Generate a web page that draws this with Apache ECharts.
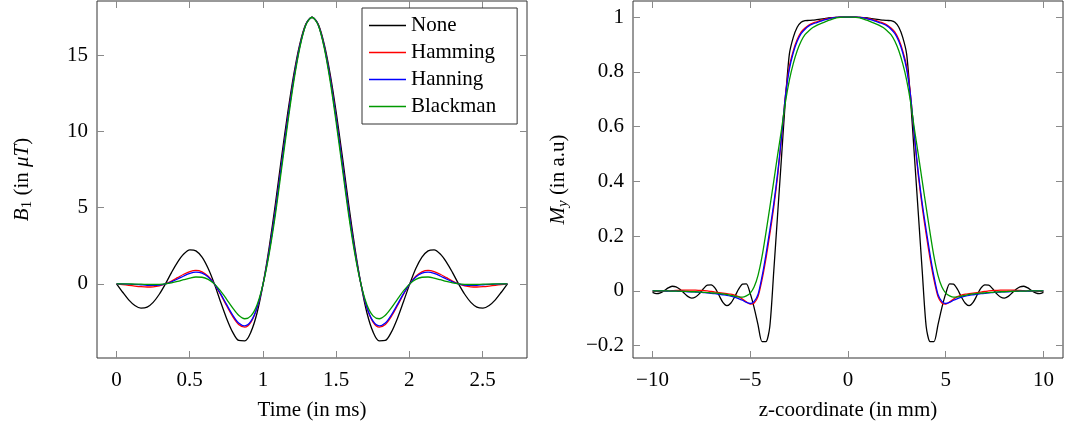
<!DOCTYPE html>
<html>
<head>
<meta charset="utf-8">
<title>RF pulse windows</title>
<script src="https://cdn.jsdelivr.net/npm/echarts@6/dist/echarts.min.js"></script>
<style>
  html, body { margin: 0; padding: 0; background: #fff; }
  #main { width: 1067px; height: 430px; }
</style>
</head>
<body>
<div id="main"></div>
<script>
// ---- left panel: B1 pulse vs time ----
var timeMs = [0, 0.042, 0.083, 0.125, 0.167, 0.209, 0.250, 0.292, 0.334, 0.375, 0.417, 0.459, 0.501, 0.542, 0.584, 0.626,
  0.668, 0.709, 0.751, 0.793, 0.834, 0.876, 0.918, 0.960, 1.001, 1.043, 1.085, 1.126, 1.168, 1.210, 1.252, 1.293,
  1.335, 1.377, 1.418, 1.460, 1.502, 1.544, 1.585, 1.627, 1.669, 1.710, 1.752, 1.794, 1.836, 1.877, 1.919, 1.961,
  2.003, 2.044, 2.086, 2.128, 2.169, 2.211, 2.253, 2.295, 2.336, 2.378, 2.420, 2.461, 2.503, 2.545, 2.587, 2.628, 2.670];

var b1None = [0, -0.550, -1.050, -1.420, -1.592, -1.525, -1.212, -0.682, 0, 0.741, 1.432, 1.961, 2.228, 2.167, 1.751, 1.003,
  0, -1.137, -2.251, -3.167, -3.714, -3.743, -3.151, -1.895, 0, 2.436, 5.252, 8.234, 11.141, 13.724, 15.756, 17.054,
  17.5, 17.054, 15.756, 13.724, 11.141, 8.234, 5.252, 2.436, 0, -1.895, -3.151, -3.743, -3.714, -3.167, -2.251, -1.137,
  0, 1.003, 1.751, 2.167, 2.228, 1.961, 1.432, 0.741, 0, -0.682, -1.212, -1.525, -1.592, -1.420, -1.050, -0.550, 0];
var b1Hamming = [0, -0.045, -0.093, -0.142, -0.183, -0.205, -0.191, -0.126, 0, 0.184, 0.407, 0.634, 0.811, 0.881, 0.788, 0.496,
  0, -0.665, -1.418, -2.133, -2.659, -2.833, -2.507, -1.576, 0, 2.182, 4.845, 7.787, 10.751, 13.452, 15.617, 17.016,
  17.5, 17.016, 15.617, 13.452, 10.751, 7.787, 4.845, 2.182, 0, -1.576, -2.507, -2.833, -2.659, -2.133, -1.418, -0.665,
  0, 0.496, 0.788, 0.881, 0.811, 0.634, 0.407, 0.184, 0, -0.126, -0.191, -0.205, -0.183, -0.142, -0.093, -0.045, 0];
var b1Hanning = [0, -0.001, -0.010, -0.031, -0.061, -0.090, -0.102, -0.077, 0, 0.135, 0.318, 0.518, 0.688, 0.769, 0.705, 0.452,
  0, -0.624, -1.345, -2.043, -2.568, -2.754, -2.451, -1.549, 0, 2.160, 4.809, 7.748, 10.717, 13.429, 15.605, 17.013,
  17.5, 17.013, 15.605, 13.429, 10.717, 7.748, 4.809, 2.160, 0, -1.549, -2.451, -2.754, -2.568, -2.043, -1.345, -0.624,
  0, 0.452, 0.705, 0.769, 0.688, 0.518, 0.318, 0.135, 0, -0.077, -0.102, -0.090, -0.061, -0.031, -0.010, -0.001, 0];
var b1Blackman = [0, 0, -0.004, -0.011, -0.023, -0.036, -0.042, -0.033, 0, 0.065, 0.160, 0.274, 0.383, 0.451, 0.435, 0.293,
  0, -0.444, -0.999, -1.579, -2.060, -2.288, -2.102, -1.367, 0, 2.003, 4.550, 7.455, 10.456, 13.244, 15.509, 16.987,
  17.5, 16.987, 15.509, 13.244, 10.456, 7.455, 4.550, 2.003, 0, -1.367, -2.102, -2.288, -2.060, -1.579, -0.999, -0.444,
  0, 0.293, 0.435, 0.451, 0.383, 0.274, 0.160, 0.065, 0, -0.033, -0.042, -0.036, -0.023, -0.011, -0.004, 0, 0];

// ---- right panel: slice profile My vs z ----
var zMm = [-10, -9.8, -9.6, -9.4, -9.2, -9, -8.8, -8.6, -8.4, -8.2, -8, -7.8, -7.6, -7.4, -7.2, -7, -6.8, -6.6, -6.4, -6.2,
  -6, -5.8, -5.6, -5.4, -5.2, -5, -4.8, -4.6, -4.4, -4.2, -4, -3.8, -3.6, -3.4, -3.2, -3, -2.8, -2.6, -2.4, -2.2,
  -2, -1.8, -1.6, -1.4, -1.2, -1, -0.8, -0.6, -0.4, -0.2, 0, 0.2, 0.4, 0.6, 0.8, 1, 1.2, 1.4, 1.6, 1.8,
  2, 2.2, 2.4, 2.6, 2.8, 3, 3.2, 3.4, 3.6, 3.8, 4, 4.2, 4.4, 4.6, 4.8, 5, 5.2, 5.4, 5.6, 5.8,
  6, 6.2, 6.4, 6.6, 6.8, 7, 7.2, 7.4, 7.6, 7.8, 8, 8.2, 8.4, 8.6, 8.8, 9, 9.2, 9.4, 9.6, 9.8, 10];

var myNone = [-0.005, -0.010, -0.007, 0.001, 0.011, 0.017, 0.015, 0.006, -0.007, -0.020,
  -0.026, -0.022, -0.010, 0.008, 0.021, 0.022, 0.010, -0.016, -0.042, -0.054,
  -0.045, -0.022, 0.006, 0.025, 0.026, -0.01, -0.062, -0.125, -0.185, -0.185,
  -0.13, 0.07, 0.28, 0.49, 0.70, 0.865, 0.926, 0.963, 0.981, 0.987,
  0.988, 0.989, 0.991, 0.993, 0.995, 0.997, 0.998, 0.999, 1.0, 1.0,
  1.0,
  1.0, 1.0, 0.999, 0.998, 0.997, 0.995, 0.993, 0.991, 0.989, 0.988,
  0.987, 0.981, 0.963, 0.926, 0.865, 0.70, 0.49, 0.28, 0.07, -0.13,
  -0.185, -0.185, -0.125, -0.062, -0.01, 0.026, 0.025, 0.006, -0.022, -0.045,
  -0.054, -0.042, -0.016, 0.010, 0.022, 0.021, 0.008, -0.010, -0.022, -0.026,
  -0.020, -0.007, 0.006, 0.015, 0.017, 0.011, 0.001, -0.007, -0.010, -0.005];
var myHamming = [-0.002, -0.002, -0.001, -0.001, 0.0, 0.001, 0.002, 0.002, 0.003, 0.003,
  0.003, 0.003, 0.002, 0.001, 0.0, -0.002, -0.004, -0.006, -0.008, -0.01,
  -0.012, -0.015, -0.021, -0.03, -0.04, -0.048, -0.044, -0.02, 0.04, 0.117,
  0.207, 0.305, 0.42, 0.56, 0.715, 0.82, 0.877, 0.918, 0.945, 0.96,
  0.971, 0.978, 0.983, 0.988, 0.992, 0.995, 0.998, 0.999, 1.0, 1.0,
  1.0,
  1.0, 1.0, 0.999, 0.998, 0.995, 0.992, 0.988, 0.983, 0.978, 0.971,
  0.96, 0.945, 0.918, 0.877, 0.82, 0.715, 0.56, 0.42, 0.305, 0.207,
  0.117, 0.04, -0.02, -0.044, -0.048, -0.04, -0.03, -0.021, -0.015, -0.012,
  -0.01, -0.008, -0.006, -0.004, -0.002, 0.0, 0.001, 0.002, 0.003, 0.003,
  0.003, 0.003, 0.002, 0.002, 0.001, 0.0, -0.001, -0.001, -0.002, -0.002];
var myHanning = [0, 0, 0, 0, -0.001, -0.001, -0.001, -0.002, -0.002, -0.003,
  -0.003, -0.004, -0.005, -0.006, -0.007, -0.009, -0.010, -0.012, -0.014, -0.016,
  -0.019, -0.023, -0.028, -0.034, -0.042, -0.046, -0.038, -0.012, 0.052, 0.132,
  0.222, 0.318, 0.43, 0.565, 0.713, 0.81, 0.87, 0.912, 0.94, 0.956,
  0.968, 0.975, 0.98, 0.985, 0.99, 0.994, 0.997, 0.999, 1.0, 1.0,
  1.0,
  1.0, 1.0, 0.999, 0.997, 0.994, 0.99, 0.985, 0.98, 0.975, 0.968,
  0.956, 0.94, 0.912, 0.87, 0.81, 0.713, 0.565, 0.43, 0.318, 0.222,
  0.132, 0.052, -0.012, -0.038, -0.046, -0.042, -0.034, -0.028, -0.023, -0.019,
  -0.016, -0.014, -0.012, -0.010, -0.009, -0.007, -0.006, -0.005, -0.004, -0.003,
  -0.003, -0.002, -0.002, -0.001, -0.001, -0.001, 0, 0, 0, 0];
var myBlackman = [0, 0, 0, 0, 0, -0.001, -0.001, -0.001, -0.002, -0.002,
  -0.003, -0.003, -0.004, -0.005, -0.006, -0.007, -0.008, -0.009, -0.011, -0.013,
  -0.016, -0.019, -0.022, -0.023, -0.018, -0.008, 0.015, 0.058, 0.125, 0.212,
  0.305, 0.40, 0.497, 0.59, 0.69, 0.77, 0.83, 0.877, 0.912, 0.936,
  0.95, 0.962, 0.97, 0.976, 0.982, 0.988, 0.993, 0.997, 0.999, 1.0,
  1.0,
  1.0, 0.999, 0.997, 0.993, 0.988, 0.982, 0.976, 0.97, 0.962, 0.95,
  0.936, 0.912, 0.877, 0.83, 0.77, 0.69, 0.59, 0.497, 0.40, 0.305,
  0.212, 0.125, 0.058, 0.015, -0.008, -0.018, -0.023, -0.022, -0.019, -0.016,
  -0.013, -0.011, -0.009, -0.008, -0.007, -0.006, -0.005, -0.004, -0.003, -0.003,
  -0.002, -0.002, -0.001, -0.001, -0.001, 0, 0, 0, 0, 0];

var timeTicks = [0, 0.5, 1, 1.5, 2, 2.5];
var b1Ticks = [0, 5, 10, 15];
var zTicks = [-10, -5, 0, 5, 10];
var myTicks = [-0.2, 0, 0.2, 0.4, 0.6, 0.8, 1];

var seriesNames = ['None', 'Hamming', 'Hanning', 'Blackman'];
var seriesColors = ['#000000', '#ff0000', '#0000ff', '#009900'];

var FONT = 'Liberation Serif';

function pairs(xs, ys) {
    return xs.map(function (x, i) { return [x, ys[i]]; });
}
function minus(v) {
    return String(v).replace('-', '\u2212');
}

// one bottom/left axis with labels, one mirrored axis with ticks only
function xAxes(grid, min, max, ticks, name) {
    var base = {
        type: 'value', gridIndex: grid, min: min, max: max,
        splitLine: { show: false },
        axisLine: { show: false, onZero: false },
        axisTick: { show: true, inside: true, length: 7, customValues: ticks,
                    lineStyle: { color: '#8a8a8a', width: 1 } }
    };
    var bottom = Object.assign({}, base, {
        position: 'bottom',
        name: name, nameLocation: 'middle', nameGap: 42,
        nameTextStyle: { fontFamily: FONT, fontSize: 21, color: '#000' },
        axisLabel: { show: true, customValues: ticks, margin: 12, formatter: minus,
                     fontFamily: FONT, fontSize: 21, color: '#000' }
    });
    var top = Object.assign({}, base, { position: 'top', axisLabel: { show: false } });
    return [bottom, top];
}
function yAxes(grid, min, max, ticks, name, rich, gap) {
    var base = {
        type: 'value', gridIndex: grid, min: min, max: max,
        splitLine: { show: false },
        axisLine: { show: false, onZero: false },
        axisTick: { show: true, inside: true, length: 7, customValues: ticks,
                    lineStyle: { color: '#8a8a8a', width: 1 } }
    };
    var left = Object.assign({}, base, {
        position: 'left',
        name: name, nameLocation: 'middle', nameGap: gap,
        nameTextStyle: { fontFamily: FONT, fontSize: 21, color: '#000', rich: rich },
        axisLabel: { show: true, customValues: ticks, margin: 9, formatter: minus,
                     fontFamily: FONT, fontSize: 21, color: '#000' }
    });
    var right = Object.assign({}, base, { position: 'right', axisLabel: { show: false } });
    return [left, right];
}

var richName = {
    i: { fontFamily: FONT, fontSize: 21, fontStyle: 'italic', color: '#000' },
    sub: { fontFamily: FONT, fontSize: 15, color: '#000', padding: [11, 0, 0, 0] },
    subi: { fontFamily: FONT, fontSize: 15, fontStyle: 'italic', color: '#000', padding: [11, 0, 0, 0] }
};

var leftData = [b1None, b1Hamming, b1Hanning, b1Blackman];
var rightData = [myNone, myHamming, myHanning, myBlackman];

var series = [];
for (var s = 0; s < 4; s++) {
    series.push({
        name: seriesNames[s], type: 'line', xAxisIndex: 0, yAxisIndex: 0,
        data: pairs(timeMs, leftData[s]), symbol: 'none', smooth: 0.3,
        lineStyle: { color: seriesColors[s], width: 1.3 }, itemStyle: { color: seriesColors[s] }
    });
}
for (var s = 0; s < 4; s++) {
    series.push({
        name: seriesNames[s], type: 'line', xAxisIndex: 2, yAxisIndex: 2,
        data: pairs(zMm, rightData[s]), symbol: 'none', smooth: 0.25,
        lineStyle: { color: seriesColors[s], width: 1.3 }, itemStyle: { color: seriesColors[s] }
    });
}

var myChart = echarts.init(document.getElementById('main'), null, { renderer: 'canvas' });
var option = {
    animation: false,
    backgroundColor: '#fff',
    grid: [
        { left: 97, top: 1, width: 430, height: 357, show: true, borderColor: '#333', borderWidth: 1 },
        { left: 633, top: 1, width: 430, height: 357, show: true, borderColor: '#333', borderWidth: 1 }
    ],
    legend: {
        data: seriesNames,
        orient: 'vertical', left: 362, top: 8,
        icon: 'rect', itemWidth: 37, itemHeight: 1.5, itemGap: 6,
        padding: [7, 21, 7, 7],
        borderColor: '#333', borderWidth: 1, backgroundColor: '#fff',
        textStyle: { fontFamily: FONT, fontSize: 21, lineHeight: 21, color: '#000' }
    },
    xAxis: [].concat(
        xAxes(0, -0.1335, 2.8035, timeTicks, 'Time (in ms)'),
        xAxes(1, -11, 11, zTicks, 'z-coordinate (in mm)')
    ),
    yAxis: [].concat(
        yAxes(0, -4.865, 18.565, b1Ticks, '{i|B}{sub|1} (in {i|\u03bcT})', richName, 62),
        yAxes(1, -0.245, 1.059, myTicks, '{i|M}{subi|y} (in a.u)', richName, 62)
    ),
    series: series
};
myChart.setOption(option);
</script>
</body>
</html>
